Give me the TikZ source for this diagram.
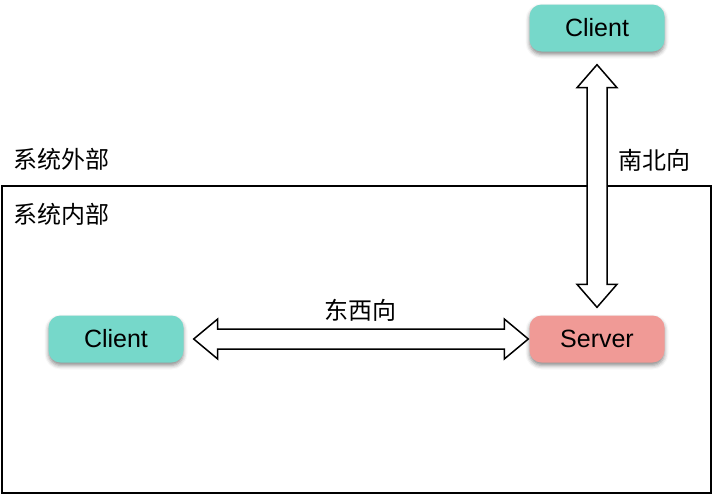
\documentclass[tikz,border=0pt]{standalone}
\usepackage{fontspec}
\setmainfont{Liberation Sans}
\newfontfamily\cjk{Noto Sans CJK SC}
\usepackage{tikz}
\usetikzlibrary{calc,shadows.blur}

\definecolor{clientteal}{RGB}{118,216,202}
\definecolor{serverpink}{RGB}{240,154,150}

\tikzset{
    box/.style={rounded corners=12pt, minimum width=135pt, minimum height=47pt,
        inner sep=0pt, font=\fontsize{25}{29}\selectfont,
        blur shadow={shadow xshift=0pt, shadow yshift=-3pt,
            shadow blur radius=4pt, shadow opacity=45}},
    label/.style={font=\cjk\fontsize{24}{28}\selectfont, inner sep=0pt},
    fatarrow/.style={draw=black, line width=1.5pt, fill=white, line join=miter}
}

\begin{document}
\begin{tikzpicture}[x=1pt, y=-1pt]
    \useasboundingbox (0,0) rectangle (714,496);

    % Draw the system border
    \draw[line width=1.3pt] (2,186) rectangle (711,493);

    % Draw the nodes
    \node[box, fill=clientteal] (top) at (597,28) {Client};
    \node[box, fill=clientteal] (left) at (116,339) {Client};
    \node[box, fill=serverpink] (srv) at (597,339) {Server};

    % Labels for the areas
    \node[label] (outside) at (61,159) {系统外部};
    \node[label] (inside) at (61,214) {系统内部};

    % Draw the east-west arrow
    \coordinate (h1) at ($(left.east)+(10,0)$);
    \coordinate (h2) at ($(srv.west)+(-1,0)$);
    \draw[fatarrow] (h1) -- ++(24,-20) -- ++(0,10) -- ($(h2)+(-24,-10)$) -- ++(0,-10)
        -- (h2) -- ++(-24,20) -- ++(0,-10) -- ($(h1)+(24,10)$) -- ++(0,10) -- cycle;

    % Draw the north-south arrow
    \coordinate (v1) at ($(top.south)+(0,13)$);
    \coordinate (v2) at ($(srv.north)+(0,-8)$);
    \draw[fatarrow] (v1) -- ++(20,23) -- ++(-10,0) -- ($(v2)+(10,-23)$) -- ++(10,0)
        -- (v2) -- ++(-20,-23) -- ++(10,0) -- ($(v1)+(-10,23)$) -- ++(-10,0) -- cycle;

    % Labels for the arrows
    \node[label] (ew) at (360,310) {东西向};
    \node[label] (ns) at (654,160) {南北向};
\end{tikzpicture}
\end{document}
